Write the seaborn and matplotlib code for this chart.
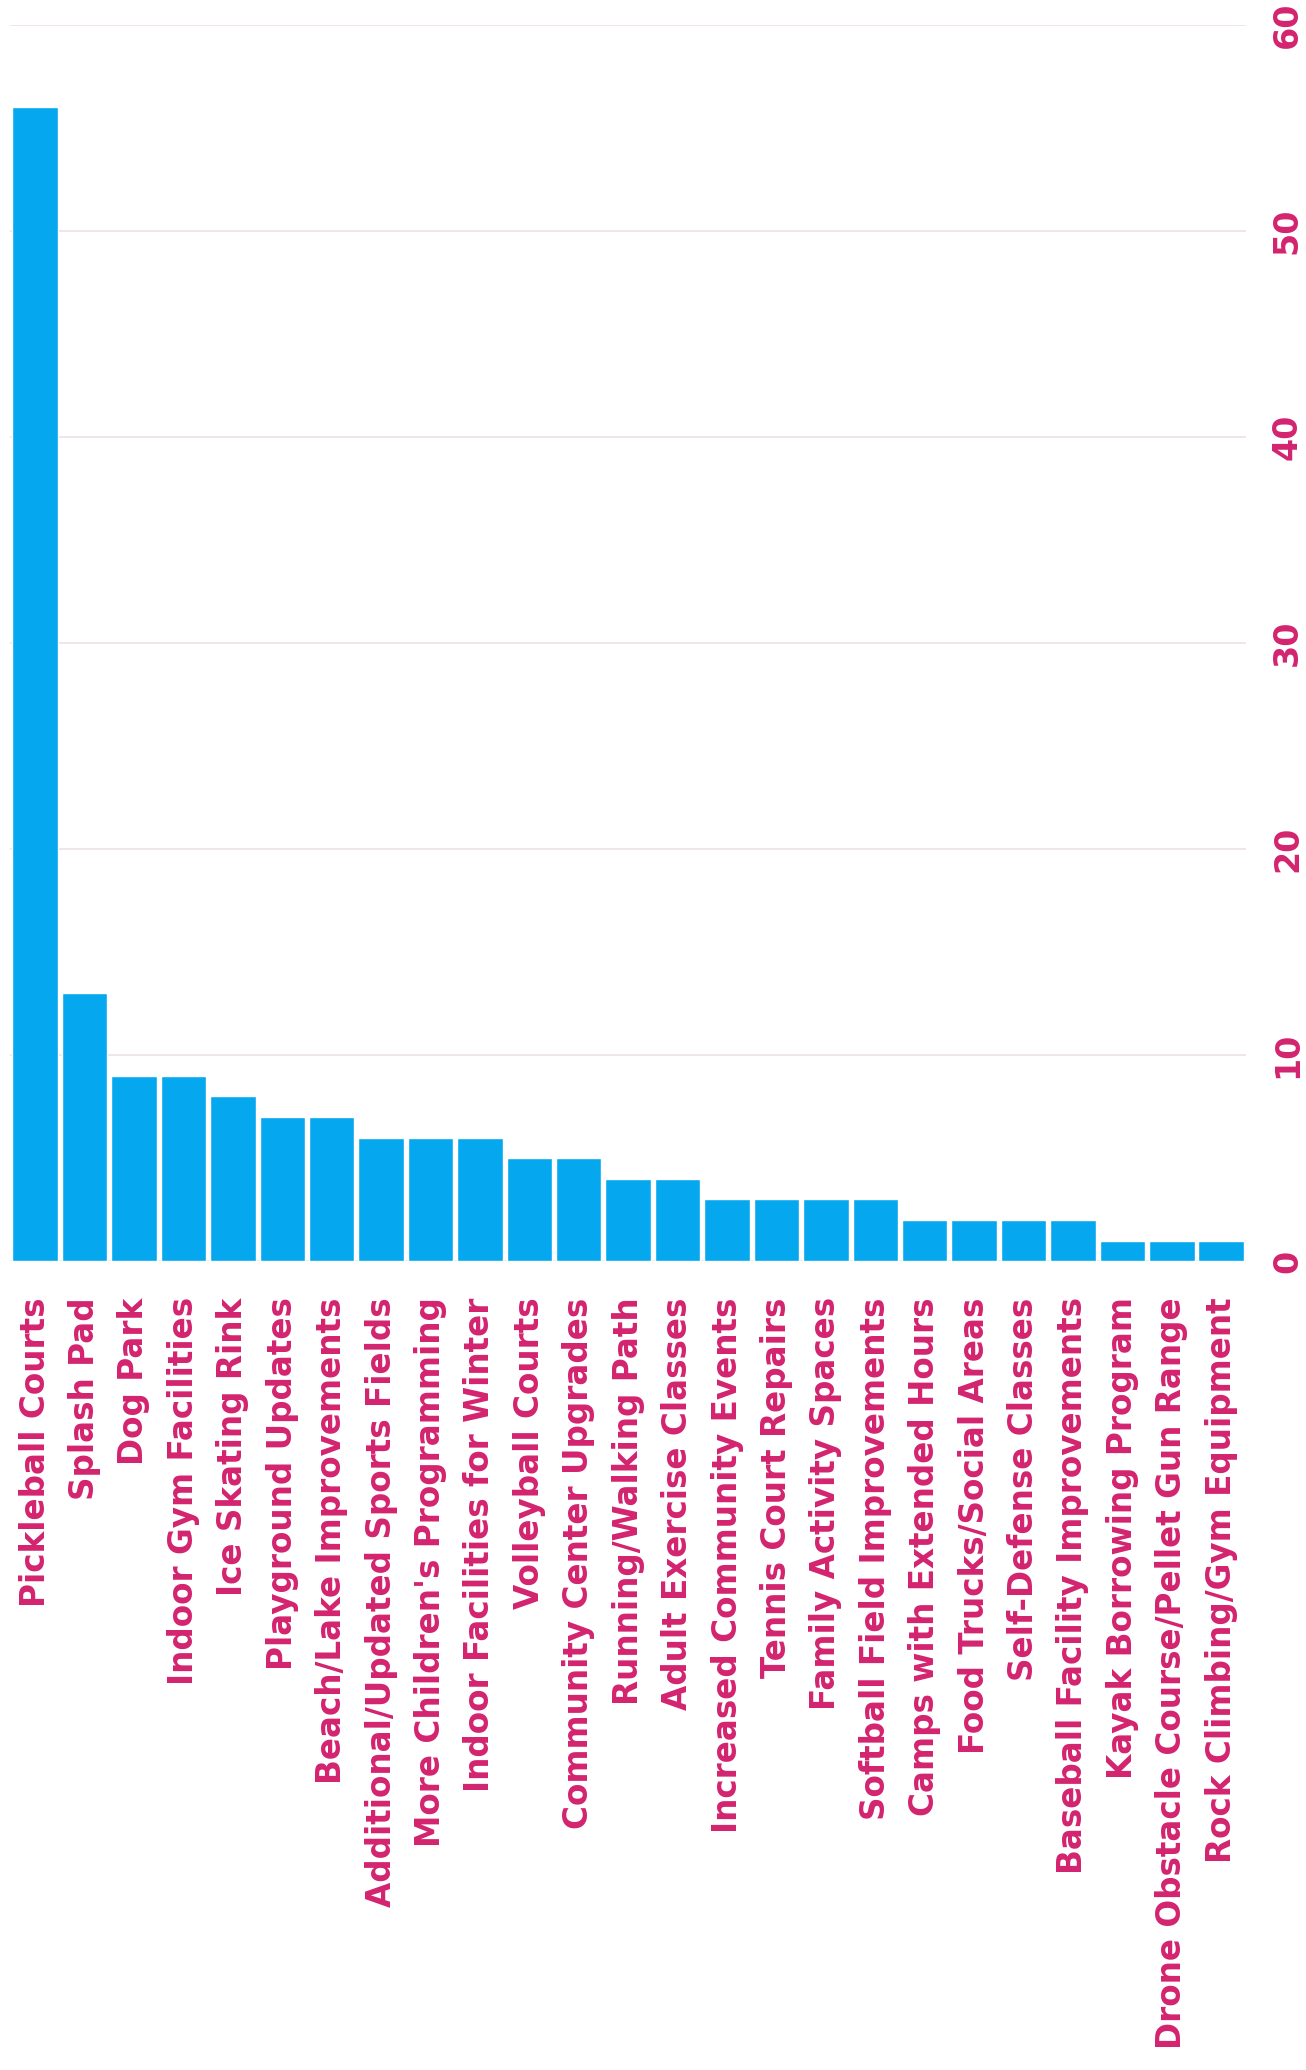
import numpy as np
import pandas as pd
import matplotlib
matplotlib.use("Agg")
import matplotlib.pyplot as plt
import seaborn as sns

# amenities asked for, with the number of responses
categories = [
    "Pickleball Courts",
    "Splash Pad",
    "Dog Park",
    "Indoor Gym Facilities",
    "Ice Skating Rink",
    "Playground Updates",
    "Beach/Lake Improvements",
    "Additional/Updated Sports Fields",
    "More Children's Programming",
    "Indoor Facilities for Winter",
    "Volleyball Courts",
    "Community Center Upgrades",
    "Running/Walking Path",
    "Adult Exercise Classes",
    "Increased Community Events",
    "Tennis Court Repairs",
    "Family Activity Spaces",
    "Softball Field Improvements",
    "Camps with Extended Hours",
    "Food Trucks/Social Areas",
    "Self-Defense Classes",
    "Baseball Facility Improvements",
    "Kayak Borrowing Program",
    "Drone Obstacle Course/Pellet Gun Range",
    "Rock Climbing/Gym Equipment",
]
counts = [56, 13, 9, 9, 8, 7, 7, 6, 6, 6, 5, 5, 4, 4, 3, 3, 3, 3, 2, 2, 2, 2, 1, 1, 1]
y_ticks = [0, 10, 20, 30, 40, 50, 60]

BAR_COLOR = "#05a8ee"
TEXT_COLOR = "#d3236f"
GRID_COLOR = "#efdfe6"

sns.set_style("white")
plt.rcParams["font.family"] = ["DejaVu Sans"]
plt.rcParams["font.weight"] = "bold"

df = pd.DataFrame({"category": categories, "count": counts})

fig = plt.figure(figsize=(13.06, 20.70), dpi=100)
ax = fig.add_axes([0.008, 0.3907, 0.946, 0.5973])

sns.barplot(data=df, x="category", y="count", color=BAR_COLOR, width=0.92,
            saturation=1, ax=ax, zorder=3)

ax.set_xlim(-0.5, len(categories) - 0.5)
ax.set_ylim(0, 60)
ax.set_yticks(y_ticks)
ax.yaxis.tick_right()
ax.set_yticklabels([str(t) for t in y_ticks], rotation=90, va="center",
                   color=TEXT_COLOR, fontsize=24, fontweight="bold")
ax.tick_params(axis="y", length=0, pad=18)
ax.tick_params(axis="x", length=0, pad=26)
ax.set_xticks(range(len(categories)))
ax.set_xticklabels(categories, rotation=90, ha="center", va="top",
                   color=TEXT_COLOR, fontsize=23.5, fontweight="bold")

ax.grid(axis="y", color=GRID_COLOR, linewidth=1.2, zorder=0)
ax.grid(axis="x", visible=False)
for side in ["top", "right", "bottom", "left"]:
    ax.spines[side].set_visible(False)
ax.set_xlabel("")
ax.set_ylabel("")

fig.savefig("out.png", dpi=100, facecolor="white")
